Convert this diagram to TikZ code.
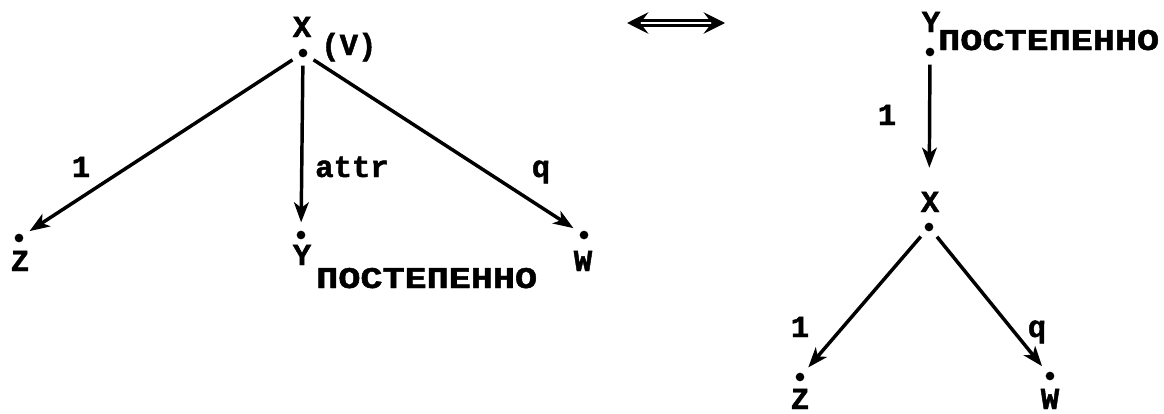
\documentclass[tikz,border=0pt]{standalone}
\usepackage{fontspec}
\usetikzlibrary{arrows.meta}
\newfontfamily\tw{Liberation Mono}[FakeBold=1.5]
\newcommand{\cyr}[1]{\scalebox{1.2}[0.98]{#1}}
\begin{document}
\begin{tikzpicture}[x=0.75pt,y=-0.75pt,
  lbl/.style={font=\tw\bfseries\fontsize{23}{25}\selectfont, inner sep=0pt, anchor=base},
  lblw/.style={lbl, anchor=base west},
  dotn/.style={circle, fill=black, inner sep=0pt, minimum size=6.5pt},
  edge/.style={line width=2.6pt, shorten <=6pt, shorten >=6pt,
    -{Stealth[length=15pt,width=11pt,inset=4pt]}}]
\useasboundingbox (0,0) rectangle (1164,414);
% left tree
\node[dotn] (lx) at (303,53) {};
\node[dotn] (lz) at (19,238) {};
\node[dotn] (ly) at (301,235) {};
\node[dotn] (lw) at (584,235) {};
\node[lbl] (lxt) at (302,37) {X};
\node[lblw] (lv) at (321,55) {(V)};
\node[lbl] (lzt) at (20,271) {Z};
\node[lbl] (lwt) at (583,271) {W};
\node[lbl] (lyt) at (302,265) {Y};
\node[lblw] (lys) at (316,288) {\cyr{ПОСТЕПЕННО}};
\draw[edge] (lx) -- (lz);
\draw[edge] (lx) -- (ly);
\draw[edge] (lx) -- (lw);
\node[lbl] (l1) at (81,177) {1};
\node[lbl] (lattr) at (352,177) {attr};
\node[lbl] (lq) at (541,177) {q};
% double arrow
\coordinate (da) at (627,23);
\coordinate (db) at (725,23);
\draw[line width=2pt, double distance=2pt,
  {Stealth[length=16pt,width=16pt,inset=6pt]}-{Stealth[length=16pt,width=16pt,inset=6pt]}] (da) -- (db);
% right tree
\node[dotn] (ry) at (930,52) {};
\node[dotn] (rx) at (929,227) {};
\node[dotn] (rz) at (800,377) {};
\node[dotn] (rw) at (1050,376) {};
\node[lbl] (ryt) at (931,32) {Y};
\node[lblw] (rys) at (938,50) {\cyr{ПОСТЕПЕННО}};
\node[lbl] (rxt) at (930,212) {X};
\node[lbl] (rzt) at (800,409) {Z};
\node[lbl] (rwt) at (1050,409) {W};
\draw[edge, shorten >=41pt] (ry) -- (rx);
\draw[edge] (rx) -- (rz);
\draw[edge] (rx) -- (rw);
\node[lbl] (r1) at (887,125) {1};
\node[lbl] (r1b) at (800,337) {1};
\node[lbl] (rq) at (1037,337) {q};
\end{tikzpicture}
\end{document}
